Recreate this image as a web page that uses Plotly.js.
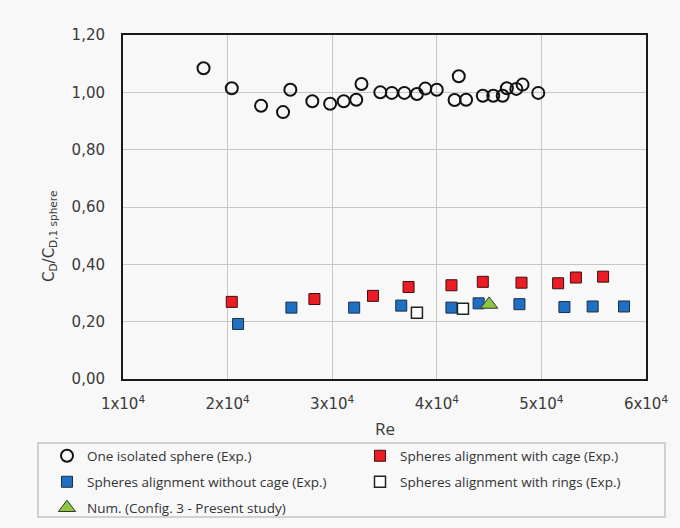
<!DOCTYPE html>
<html>
<head>
<meta charset="utf-8">
<script src="https://cdn.plot.ly/plotly-3.0.1.min.js"></script>
<style>html,body{margin:0;padding:0;background:#f8f8f8;}#chart{width:680px;height:528px;}</style>
</head>
<body>
<div id="chart"></div>
<script>
// Data
const reIsolated = [17700, 20400, 23200, 25300, 26000, 28100, 29800, 31100, 32300, 32800, 34600, 35700, 36900, 38100, 38900, 40000, 41700, 42100, 42800, 44400, 45400, 46300, 46700, 47600, 48200, 49700];
const cdIsolated = [1.084, 1.014, 0.953, 0.931, 1.009, 0.969, 0.960, 0.969, 0.974, 1.029, 1.000, 0.998, 0.998, 0.994, 1.013, 1.009, 0.973, 1.056, 0.974, 0.988, 0.988, 0.988, 1.014, 1.012, 1.027, 0.998];

const reCage = [20400, 28300, 33900, 37300, 41400, 44400, 48100, 51600, 53300, 55900];
const cdCage = [0.269, 0.279, 0.290, 0.321, 0.327, 0.339, 0.336, 0.334, 0.354, 0.357];

const reNoCage = [21000, 26100, 32100, 36600, 41400, 44000, 47900, 52200, 54900, 57900];
const cdNoCage = [0.192, 0.249, 0.249, 0.256, 0.249, 0.264, 0.261, 0.251, 0.253, 0.253];

const reRings = [38100, 42500];
const cdRings = [0.231, 0.245];

const reNum = [45000];
const cdNum = [0.260];

const xTickVals = [10000, 20000, 30000, 40000, 50000, 60000];
const xTickText = ['1x10<sup>4</sup>', '2x10<sup>4</sup>', '3x10<sup>4</sup>', '4x10<sup>4</sup>', '5x10<sup>4</sup>', '6x10<sup>4</sup>'];

const names = ['One isolated sphere (Exp.)', 'Spheres alignment with cage (Exp.)', 'Spheres alignment without cage (Exp.)', 'Spheres alignment with rings (Exp.)', 'Num. (Config. 3 - Present study)'];

const bg = '#f8f8f8';

const traces = [
  {x: reIsolated, y: cdIsolated, name: names[0], mode: 'markers', type: 'scatter', legend: 'legend',
   marker: {symbol: 'circle', size: 12, color: 'rgba(0,0,0,0)', line: {color: '#111', width: 2}}},
  {x: reCage, y: cdCage, name: names[1], mode: 'markers', type: 'scatter', legend: 'legend',
   marker: {symbol: 'square', size: 11, color: '#ec1c24', line: {color: '#3a1010', width: 1}}},
  {x: reNoCage, y: cdNoCage, name: names[2], mode: 'markers', type: 'scatter', legend: 'legend2',
   marker: {symbol: 'square', size: 11, color: '#1f6fc2', line: {color: '#1b2f47', width: 1}}},
  {x: reRings, y: cdRings, name: names[3], mode: 'markers', type: 'scatter', legend: 'legend2',
   marker: {symbol: 'square', size: 11, color: '#ffffff', line: {color: '#222', width: 1.5}}},
  {x: reNum, y: cdNum, name: names[4], mode: 'markers', type: 'scatter', legend: 'legend3',
   marker: {symbol: 'triangle-up', size: 15, color: '#8dc63f', line: {color: '#333', width: 1}}}
];

const legendBase = {
  orientation: 'h', xanchor: 'left', yanchor: 'middle', x: (47 - 123) / 523,
  entrywidth: 268, bgcolor: 'rgba(0,0,0,0)', borderwidth: 0,
  font: {family: 'Open Sans, sans-serif', size: 13.5, color: '#333'}
};

const layout = {
  width: 680, height: 528,
  margin: {l: 123, r: 34, t: 35, b: 149, autoexpand: false},
  paper_bgcolor: bg, plot_bgcolor: bg,
  separators: ',.',
  font: {family: 'DejaVu Sans, sans-serif', size: 15, color: '#3a3a3a'},
  xaxis: {
    range: [10000, 60000], tickvals: xTickVals, ticktext: xTickText,
    showgrid: true, gridcolor: '#c6c6c6', gridwidth: 1, zeroline: false,
    showline: true, mirror: true, linecolor: '#1a1a1a', linewidth: 2,
    ticks: '', ticklabelstandoff: 10, automargin: false,
    tickfont: {family: 'DejaVu Sans, sans-serif', size: 15, color: '#3a3a3a'}
  },
  yaxis: {
    range: [0, 1.2], dtick: 0.2, tick0: 0, tickformat: '.2f',
    showgrid: true, gridcolor: '#c6c6c6', gridwidth: 1, zeroline: false,
    showline: true, mirror: true, linecolor: '#1a1a1a', linewidth: 2,
    ticks: '', ticklabelstandoff: 13, automargin: false,
    tickfont: {family: 'DejaVu Sans, sans-serif', size: 15, color: '#3a3a3a'}
  },
  showlegend: true,
  legend: Object.assign({}, legendBase, {y: (379 - 456) / 344}),
  legend2: Object.assign({}, legendBase, {y: (379 - 482) / 344}),
  legend3: Object.assign({}, legendBase, {y: (379 - 508) / 344}),
  shapes: [
    {type: 'rect', xref: 'paper', yref: 'paper',
     x0: (38 - 123) / 523, x1: (665 - 123) / 523,
     y0: (379 - 517) / 344, y1: (379 - 443) / 344,
     line: {color: '#c4c4c4', width: 1.5}, fillcolor: 'rgba(0,0,0,0)', layer: 'below'}
  ],
  annotations: [
    {text: 'C<sub>D</sub>/C<sub>D,1 sphere</sub>', xref: 'paper', yref: 'paper',
     x: (50 - 123) / 523, y: (379 - 237) / 344, xanchor: 'center', yanchor: 'middle',
     textangle: -90, showarrow: false,
     font: {family: 'DejaVu Sans, sans-serif', size: 15, color: '#3a3a3a'}},
    {text: 'Re', xref: 'paper', yref: 'paper',
     x: 0.5, y: (379 - 428) / 344, xanchor: 'center', yanchor: 'middle',
     showarrow: false,
     font: {family: 'Open Sans, sans-serif', size: 17, color: '#3a3a3a'}}
  ]
};

Plotly.newPlot('chart', traces, layout, {displayModeBar: false, staticPlot: true});
</script>
</body>
</html>
